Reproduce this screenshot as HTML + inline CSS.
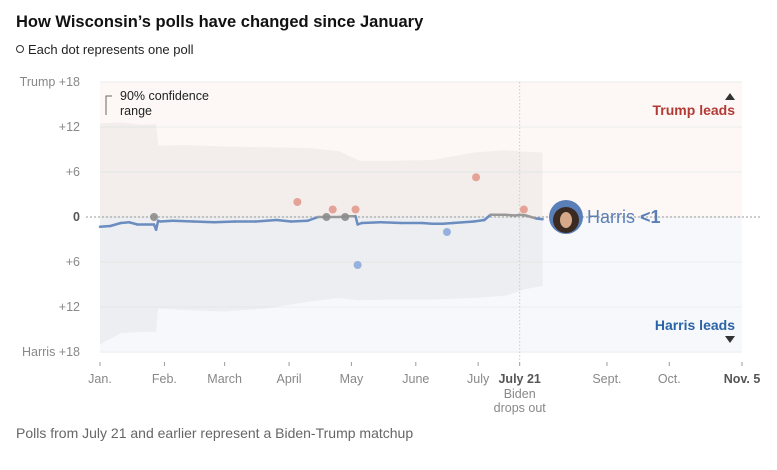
<!DOCTYPE html>
<html><head><meta charset="utf-8"><style>
body{margin:0;background:#fff;font-family:"Liberation Sans",sans-serif;}
svg text{font-family:"Liberation Sans",sans-serif;}
</style></head><body>
<svg width="777" height="465" viewBox="0 0 777 465">
<text x="16" y="27" font-size="16.5" font-weight="bold" fill="#111">How Wisconsin’s polls have changed since January</text>
<circle cx="20" cy="49" r="3.5" fill="#fff" stroke="#333" stroke-width="1"/>
<text x="28" y="54" font-size="13" fill="#222">Each dot represents one poll</text>
<g id="plot"></g>
<text x="16" y="438" font-size="14" fill="#666">Polls from July 21 and earlier represent a Biden-Trump matchup</text>
</svg>
<script>
const tickDays=[0,31,60,91,121,152,182,202,244,274,309];
const tickLabels=["Jan.","Feb.","March","April","May","June","July","July 21","Sept.","Oct.","Nov. 5"];
const yTicks=[18,12,6,0,-6,-12,-18];
const yLabels=["Trump +18","+12","+6","0","+6","+12","Harris +18"];
const avgDays=[0,5,10,14,18,22,26,27,28,29,35,45,55,65,75,85,92,100,105,110,115,120,123,124,126,135,145,155,160,165,170,175,180,185,188,190,195,200,202,205,210,213];
const avgVals=[-1.3,-1.2,-0.8,-0.7,-1.0,-1.0,-1.0,-1.7,-0.5,-0.6,-0.5,-0.6,-0.7,-0.6,-0.6,-0.4,-0.6,-0.5,0,0,0,0.1,0.1,-1.0,-0.8,-0.7,-0.8,-0.8,-0.9,-0.9,-0.8,-0.7,-0.6,-0.4,0.3,0.3,0.3,0.2,0.3,0.2,-0.2,-0.3];
const bandDays=[0,10,20,27,28,40,60,80,100,115,125,140,160,180,195,205,213];
const bandHi=[12.5,12.6,12.3,12.4,9.5,9.6,9.4,9.3,9.2,8.8,7.5,7.5,7.6,8.6,8.9,8.7,8.6];
const bandLo=[-17,-15.5,-15.3,-15.3,-12.2,-12.4,-12.6,-12.2,-11.3,-10.8,-11.1,-11.0,-11.0,-10.8,-10.5,-9.6,-9.2];
const pollDays=[26,109,118,95,112,123,124,167,181,204];
const pollVals=[0,0,0,2,1,1,-6.4,-2,5.3,1];
const latestMargin="<1";
const NS="http://www.w3.org/2000/svg";
const g=document.getElementById('plot');
const X=d=>100+d*642/309, Y=v=>217-v*7.5;
function mk(t,a,p){const e=document.createElementNS(NS,t);for(const k in a)e.setAttribute(k,a[k]);(p||g).appendChild(e);return e;}
let e;
e=mk('rect',{x:100,y:Y(18),width:X(309)-100,height:Y(0)-Y(18),fill:'#fdf8f5'});

e=mk('rect',{x:100,y:Y(0),width:X(309)-100,height:Y(-18)-Y(0),fill:'#f6f8fc'});

yTicks.forEach((v,i)=>{
 e=mk('line',{x1:100,x2:X(309),y1:Y(v),y2:Y(v),stroke:'#f1f1f1',"stroke-width":1.5});
 
 e=mk('text',{x:80,y:Y(v)+4,"text-anchor":"end","font-size":12.5,fill:v===0?'#555':'#888',"font-weight":v===0?'bold':'normal'});
 e.textContent=yLabels[i];
 
});
let pts=bandDays.map((d,i)=>X(d)+','+Y(bandHi[i]));
for(let i=bandDays.length-1;i>=0;i--)pts.push(X(bandDays[i])+','+Y(bandLo[i]));
e=mk('polygon',{points:pts.join(' '),fill:'#808080','fill-opacity':0.08});

e=mk('line',{x1:86,x2:X(309)+20,y1:Y(0),y2:Y(0),stroke:'#999',"stroke-dasharray":"2,2"});

e=mk('line',{x1:X(202),x2:X(202),y1:Y(18),y2:Y(-18)+8,stroke:'#ccc',"stroke-dasharray":"1.5,2"});

e=mk('path',{d:'M106,115 V96 H112',fill:'none',stroke:'#666'});

e=mk('text',{x:120,y:100,"font-size":12.5,fill:'#222'});e.textContent='90% confidence';

e=mk('text',{x:120,y:115,"font-size":12.5,fill:'#222'});e.textContent='range';

for(let i=0;i<avgDays.length-1;i++){
 const gray=avgVals[i]>=-0.25&&avgVals[i+1]>=-0.25;
 e=mk('line',{x1:X(avgDays[i]),y1:Y(avgVals[i]),x2:X(avgDays[i+1]),y2:Y(avgVals[i+1]),stroke:gray?'#999':'#6b8cbf',"stroke-width":2.5,"stroke-linecap":"round"});
 
}
pollDays.forEach((d,i)=>{
 const v=pollVals[i];const c=Math.abs(v)<0.3?'#8c8c8c':v>0?'#e39a8f':'#8eaadc';
 e=mk('circle',{cx:X(d),cy:Y(v),r:4,fill:c,'fill-opacity':0.9});
 
});
e=mk('circle',{cx:566,cy:217,r:17,fill:'#5a7fb8'});

e=mk('circle',{cx:566,cy:220,r:13,fill:'#3a2a22'});

e=mk('ellipse',{cx:566,cy:220,rx:6,ry:8,fill:'#d7a98a'});

e=mk('text',{x:587,y:223,"font-size":18,fill:'#5a7fb8'});

e.appendChild(document.createTextNode('Harris '));
const ts=mk('tspan',{"font-weight":"bold"},e);ts.textContent=latestMargin;
e=mk('text',{x:735,y:115,"text-anchor":"end","font-size":14,"font-weight":"bold",fill:'#b23a35'});e.textContent='Trump leads';

e=mk('path',{d:'M725,100 L735,100 L730,93Z',fill:'#333'});

e=mk('text',{x:735,y:330,"text-anchor":"end","font-size":14,"font-weight":"bold",fill:'#2a64a6'});e.textContent='Harris leads';

e=mk('path',{d:'M725,336 L735,336 L730,343Z',fill:'#333'});

tickDays.forEach((d,i)=>{
 e=mk('line',{x1:X(d),x2:X(d),y1:362,y2:366,stroke:'#999'});
 
 const b=(i===7||i===10);
 e=mk('text',{x:X(d),y:383,"text-anchor":"middle","font-size":12.5,fill:b?'#555':'#888',"font-weight":b?'bold':'normal'});
 e.textContent=tickLabels[i];
 
});
e=mk('text',{x:X(202),y:398,"text-anchor":"middle","font-size":12.5,fill:'#888'});e.textContent='Biden';

e=mk('text',{x:X(202),y:412,"text-anchor":"middle","font-size":12.5,fill:'#888'});e.textContent='drops out';

</script>
</body></html>
